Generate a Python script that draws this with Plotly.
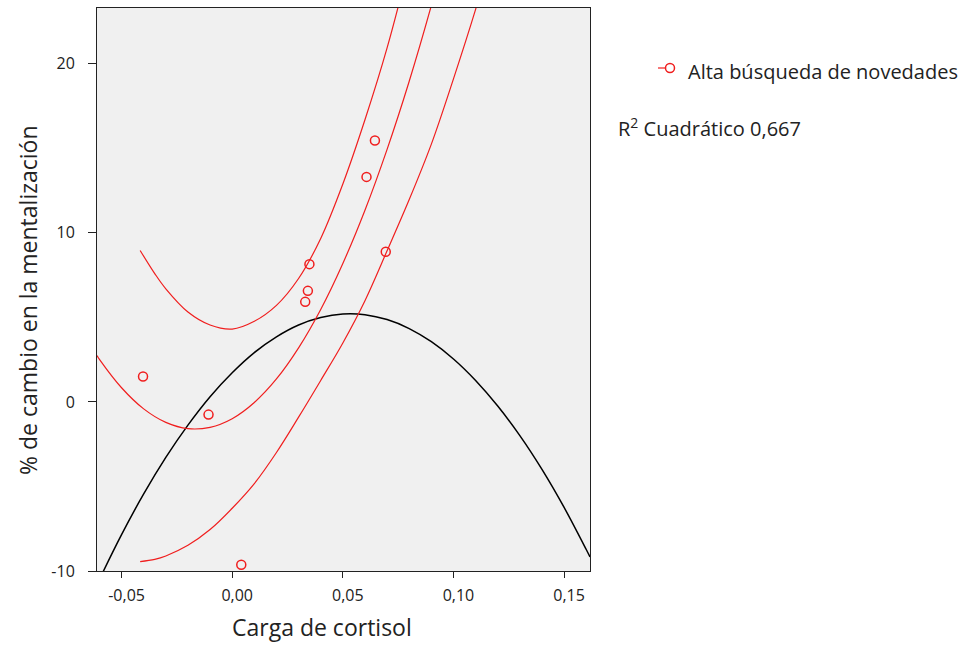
import plotly.graph_objects as go

# ---- data ----
cortisol = [-0.0403, -0.0107, 0.0041, 0.0330, 0.0342, 0.0349, 0.0607, 0.0645, 0.0694]
mentalizacion = [1.50, -0.75, -9.63, 5.92, 6.57, 8.15, 13.31, 15.46, 8.88]

fit_x = [-0.0611, -0.06, -0.05, -0.04, -0.03, -0.02, -0.01, 0.0, 0.01, 0.02, 0.03,
         0.04, 0.05, 0.06, 0.07, 0.08, 0.09, 0.10]
fit_y = [2.74, 2.52, 0.84, -0.41, -1.21, -1.58, -1.50, -0.99, -0.03, 1.36, 3.20,
         5.47, 8.19, 11.34, 14.94, 18.97, 23.45, 28.36]

ci_x = [-0.0416, -0.035, -0.03, -0.02, -0.01, 0.0, 0.01, 0.02, 0.03, 0.04, 0.05,
        0.06, 0.07, 0.08, 0.09, 0.10, 0.11, 0.12]
ci_upper = [8.96, 7.59, 6.69, 5.32, 4.55, 4.31, 4.77, 5.71, 7.30, 9.67, 12.89,
            16.69, 20.94, 25.97, 31.65, 37.61, 44.22, 51.31]
ci_lower = [-9.44, -9.31, -9.11, -8.48, -7.55, -6.29, -4.83, -2.99, -0.90, 1.27, 3.49,
            5.99, 8.94, 11.97, 15.25, 19.11, 23.22, 27.71]

total_x = [-0.0611, -0.06, -0.05, -0.04, -0.03, -0.02, -0.01, 0.0, 0.01, 0.02, 0.03,
           0.04, 0.05, 0.06, 0.07, 0.08, 0.09, 0.10, 0.11, 0.12, 0.13, 0.14, 0.15,
           0.16, 0.1617]
total_y = [-10.81, -10.50, -7.85, -5.44, -3.28, -1.37, 0.31, 1.73, 2.92, 3.85, 4.55,
           4.99, 5.20, 5.16, 4.87, 4.34, 3.56, 2.54, 1.27, -0.24, -1.99, -3.99, -6.24,
           -8.73, -9.17]

x_tickvals = [-0.05, 0.0, 0.05, 0.10, 0.15]
x_ticktext = ["-0,05", "0,00", "0,05", "0,10", "0,15"]
y_tickvals = [-10, 0, 10, 20]
y_ticktext = ["-10", "0", "10", "20"]

series_name = "Alta búsqueda de novedades"
r2_label = "R<sup>2</sup> Cuadrático 0,667"

RED = "#f01e1e"
FONT = "Open Sans"

# plot area in pixels (for placing the legend-like key outside the axes)
L, R, T, B = 97, 590, 8, 571


def px_x(p):
    return (p - L) / (R - L)


def px_y(p):
    return (B - p) / (B - T)


fig = go.Figure()

fig.add_trace(go.Scatter(x=total_x, y=total_y, mode="lines", line=dict(color="black", width=1.5, shape="spline"),
                         showlegend=False, hoverinfo="skip"))
fig.add_trace(go.Scatter(x=ci_x, y=ci_upper, mode="lines", line=dict(color=RED, width=1.2, shape="spline"),
                         showlegend=False, hoverinfo="skip"))
fig.add_trace(go.Scatter(x=fit_x, y=fit_y, mode="lines", line=dict(color=RED, width=1.2, shape="spline"),
                         showlegend=False, hoverinfo="skip"))
fig.add_trace(go.Scatter(x=ci_x, y=ci_lower, mode="lines", line=dict(color=RED, width=1.2, shape="spline"),
                         showlegend=False, hoverinfo="skip"))
fig.add_trace(go.Scatter(x=cortisol, y=mentalizacion, mode="markers", name=series_name, showlegend=False,
                         marker=dict(symbol="circle-open", size=9, color=RED, line=dict(width=1.5))))

# key symbol: short line into an open circle (as in the reference)
shapes = [
    dict(type="line", xref="paper", yref="paper", x0=px_x(658), x1=px_x(666), y0=px_y(68), y1=px_y(68),
         line=dict(color=RED, width=1.2)),
    dict(type="circle", xref="paper", yref="paper", xsizemode="pixel", ysizemode="pixel",
         xanchor=px_x(670), yanchor=px_y(68), x0=-4.5, x1=4.5, y0=-4.5, y1=4.5,
         line=dict(color=RED, width=1.5), fillcolor="rgba(0,0,0,0)"),
]

fig.update_layout(
    width=968, height=645,
    margin=dict(l=L, r=968 - R, t=T, b=645 - B),
    paper_bgcolor="white", plot_bgcolor="#f0f0f0",
    font=dict(family=FONT, color="#222222"),
    showlegend=False,
    shapes=shapes,
    xaxis=dict(range=[-0.0611, 0.1617], tickvals=x_tickvals, ticktext=x_ticktext,
               showgrid=False, zeroline=False, showline=True, mirror=True, linecolor="#222222",
               linewidth=1, ticks="outside", ticklen=6, tickcolor="#222222",
               tickfont=dict(size=16, family=FONT), ticklabelshift=5, ticklabelstandoff=4),
    yaxis=dict(range=[-10, 23.3], tickvals=y_tickvals, ticktext=y_ticktext,
               showgrid=False, zeroline=False, showline=True, mirror=True, linecolor="#222222",
               linewidth=1, ticks="outside", ticklen=8, tickcolor="#222222",
               tickfont=dict(size=16, family=FONT), ticklabelstandoff=10),
    annotations=[
        dict(text="Carga de cortisol", xref="paper", yref="paper", x=px_x(322), y=-0.1,
             xanchor="center", yanchor="middle", showarrow=False, font=dict(size=23, family=FONT)),
        dict(text="% de cambio en la mentalización", xref="paper", yref="paper", x=-0.14,
             y=px_y(300), xanchor="center", yanchor="middle", textangle=-90,
             showarrow=False, font=dict(size=23, family=FONT)),
        dict(text=series_name, xref="paper", yref="paper", x=px_x(686), y=px_y(72),
             xanchor="left", yanchor="middle", showarrow=False, font=dict(size=20, family=FONT)),
        dict(text=r2_label, xref="paper", yref="paper", x=px_x(616),
             y=px_y(128), xanchor="left", yanchor="middle", showarrow=False,
             font=dict(size=20, family=FONT)),
    ],
)

fig.write_html("out.html")
